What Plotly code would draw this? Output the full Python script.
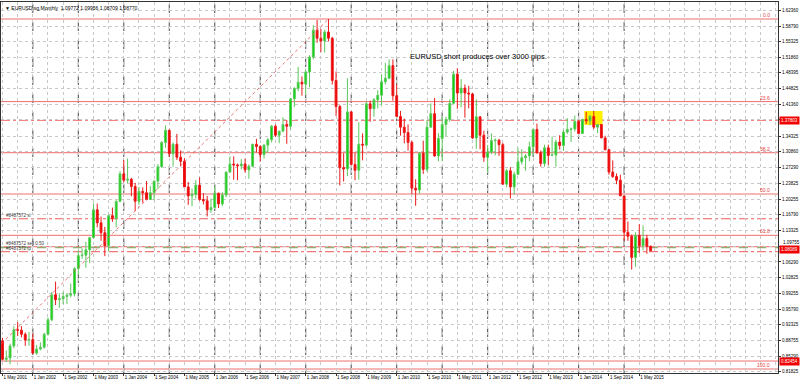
import pandas as pd
import plotly.graph_objects as go

# ---------------- data ----------------
start_month = "2001-05"
n_months = 172
dates = [p.strftime("%Y-%m") for p in pd.period_range(start_month, periods=n_months, freq="M")]

opens = [
    0.8870, 0.8460, 0.8490, 0.8760, 0.9120, 0.9110, 0.9020, 0.8890,
    0.8900, 0.8600, 0.8690, 0.8730, 0.9020, 0.9340, 0.9900, 0.9790, 0.9810, 0.9860, 0.9890, 0.9920,
    1.0480, 1.0770, 1.0780, 1.0900, 1.1170, 1.1790, 1.1500, 1.1280, 1.0990, 1.1660, 1.1600, 1.1980,
    1.2590, 1.2450, 1.2470, 1.2310, 1.1980, 1.2200, 1.2170, 1.2020, 1.2170, 1.2430, 1.2750, 1.3290,
    1.3560, 1.3040, 1.3250, 1.2960, 1.2870, 1.2300, 1.2100, 1.2130, 1.2340, 1.2020, 1.1990, 1.1790,
    1.1840, 1.2160, 1.1920, 1.2120, 1.2630, 1.2810, 1.2790, 1.2770, 1.2810, 1.2680, 1.2760, 1.3250,
    1.3200, 1.3020, 1.3230, 1.3350, 1.3650, 1.3450, 1.3540, 1.3690, 1.3650, 1.4260, 1.4490, 1.4630,
    1.4590, 1.4860, 1.5190, 1.5790, 1.5610, 1.5550, 1.5750, 1.5610, 1.4670, 1.4090, 1.2730, 1.2700,
    1.3970, 1.2800, 1.2670, 1.3250, 1.3230, 1.4150, 1.4040, 1.4240, 1.4340, 1.4640, 1.4720, 1.5000,
    1.4330, 1.3870, 1.3630, 1.3510, 1.3290, 1.2270, 1.2230, 1.3050, 1.2690, 1.3630, 1.3930, 1.2990,
    1.3380, 1.3690, 1.3800, 1.4160, 1.4810, 1.4390, 1.4500, 1.4390, 1.4370, 1.3390, 1.3860, 1.3450,
    1.2960, 1.3080, 1.3330, 1.3340, 1.3240, 1.2360, 1.2660, 1.2300, 1.2580, 1.2860, 1.2950, 1.2990,
    1.3190, 1.3580, 1.3060, 1.2820, 1.3170, 1.3000, 1.3010, 1.3300, 1.3220, 1.3520, 1.3580, 1.3590,
    1.3760, 1.3490, 1.3800, 1.3770, 1.3870, 1.3630, 1.3690, 1.3390, 1.3130, 1.2630, 1.2530, 1.2450,
    1.2100, 1.1290, 1.1200, 1.0730, 1.1220, 1.0990, 1.1150, 1.09772,
]
highs = [
    0.8940, 0.8660, 0.8810, 0.9200, 0.9290, 0.9200, 0.9060, 0.9070,
    0.9040, 0.8780, 0.8840, 0.9050, 0.9390, 0.9960, 1.0190, 0.9930, 0.9960, 0.9930, 1.0150, 1.0510,
    1.0890, 1.0930, 1.1080, 1.1190, 1.1930, 1.1930, 1.1640, 1.1410, 1.1680, 1.1840, 1.2000, 1.2650,
    1.2900, 1.2930, 1.2500, 1.2390, 1.2300, 1.2290, 1.2430, 1.2320, 1.2440, 1.2810, 1.3320, 1.3670,
    1.3580, 1.3290, 1.3480, 1.3110, 1.2940, 1.2410, 1.2260, 1.2450, 1.2510, 1.2160, 1.2100, 1.2040,
    1.2320, 1.2170, 1.2180, 1.2640, 1.2980, 1.2980, 1.2820, 1.2920, 1.2930, 1.2800, 1.3260, 1.3370,
    1.3230, 1.3250, 1.3390, 1.3680, 1.3690, 1.3550, 1.3850, 1.3790, 1.4280, 1.4520, 1.4970, 1.4760,
    1.4900, 1.5230, 1.5900, 1.6020, 1.5820, 1.5800, 1.6038, 1.5640, 1.4870, 1.4120, 1.3050, 1.4720,
    1.3990, 1.3060, 1.3740, 1.3490, 1.4200, 1.4220, 1.4280, 1.4450, 1.4800, 1.5060, 1.5140, 1.5140,
    1.4580, 1.3990, 1.3820, 1.3690, 1.3330, 1.2470, 1.3080, 1.3330, 1.3790, 1.4160, 1.4280, 1.3500,
    1.3860, 1.3860, 1.4250, 1.4880, 1.4940, 1.4700, 1.4580, 1.4550, 1.4390, 1.4250, 1.3870, 1.3550,
    1.3230, 1.3490, 1.3380, 1.3370, 1.3280, 1.2700, 1.2740, 1.2640, 1.3170, 1.3140, 1.3030, 1.3310,
    1.3590, 1.3710, 1.3110, 1.3240, 1.3240, 1.3420, 1.3350, 1.3450, 1.3570, 1.3830, 1.3620, 1.3890,
    1.3780, 1.3820, 1.3970, 1.3900, 1.3990, 1.3700, 1.3700, 1.3440, 1.3130, 1.2890, 1.2600, 1.2570,
    1.2100, 1.1530, 1.1240, 1.1290, 1.1470, 1.1440, 1.1230, 1.09956,
]
lows = [
    0.8440, 0.8400, 0.8350, 0.8710, 0.8980, 0.8950, 0.8760, 0.8760,
    0.8580, 0.8560, 0.8660, 0.8700, 0.8990, 0.9310, 0.9670, 0.9610, 0.9690, 0.9690, 0.9840, 0.9860,
    1.0340, 1.0700, 1.0500, 1.0610, 1.1160, 1.1400, 1.1100, 1.0760, 1.0860, 1.1520, 1.1400, 1.1960,
    1.2400, 1.2380, 1.2090, 1.1760, 1.1900, 1.1950, 1.2000, 1.2010, 1.2000, 1.2250, 1.2720, 1.3170,
    1.2970, 1.2750, 1.2900, 1.2760, 1.2300, 1.1900, 1.1870, 1.2040, 1.1990, 1.1910, 1.1640, 1.1720,
    1.1820, 1.1830, 1.1870, 1.2070, 1.2620, 1.2460, 1.2450, 1.2690, 1.2620, 1.2480, 1.2740, 1.3070,
    1.2860, 1.2930, 1.3060, 1.3290, 1.3410, 1.3270, 1.3530, 1.3260, 1.3580, 1.4080, 1.4430, 1.4330,
    1.4370, 1.4520, 1.5140, 1.5510, 1.5300, 1.5290, 1.5540, 1.4580, 1.3880, 1.2330, 1.2420, 1.2540,
    1.2780, 1.2450, 1.2460, 1.2890, 1.3200, 1.3750, 1.3860, 1.4050, 1.4120, 1.4580, 1.4700, 1.4220,
    1.3860, 1.3440, 1.3270, 1.3110, 1.2140, 1.1880, 1.2150, 1.2590, 1.2640, 1.3640, 1.2970, 1.2870,
    1.2870, 1.3430, 1.3750, 1.4150, 1.4040, 1.4070, 1.3840, 1.4050, 1.3370, 1.3150, 1.3140, 1.2860,
    1.2620, 1.3030, 1.3000, 1.2990, 1.2360, 1.2290, 1.2040, 1.2130, 1.2560, 1.2800, 1.2660, 1.2870,
    1.3000, 1.3040, 1.2750, 1.2750, 1.2790, 1.2990, 1.2750, 1.3130, 1.3100, 1.3480, 1.3300, 1.3530,
    1.3480, 1.3480, 1.3700, 1.3670, 1.3590, 1.3500, 1.3390, 1.3110, 1.2570, 1.2500, 1.2360, 1.2100,
    1.1100, 1.1100, 1.0460, 1.0520, 1.0820, 1.0890, 1.0810, 1.08709,
]
closes = [
    0.8460, 0.8490, 0.8760, 0.9120, 0.9110, 0.9020, 0.8890, 0.8900,
    0.8600, 0.8690, 0.8730, 0.9020, 0.9340, 0.9900, 0.9790, 0.9810, 0.9860, 0.9890, 0.9920, 1.0480,
    1.0770, 1.0780, 1.0900, 1.1170, 1.1790, 1.1500, 1.1280, 1.0990, 1.1660, 1.1600, 1.1980, 1.2590,
    1.2450, 1.2470, 1.2310, 1.1980, 1.2200, 1.2170, 1.2020, 1.2170, 1.2430, 1.2750, 1.3290, 1.3560,
    1.3040, 1.3250, 1.2960, 1.2870, 1.2300, 1.2100, 1.2130, 1.2340, 1.2020, 1.1990, 1.1790, 1.1840,
    1.2160, 1.1920, 1.2120, 1.2630, 1.2810, 1.2790, 1.2770, 1.2810, 1.2680, 1.2760, 1.3250, 1.3200,
    1.3020, 1.3230, 1.3350, 1.3650, 1.3450, 1.3540, 1.3690, 1.3650, 1.4260, 1.4490, 1.4630, 1.4590,
    1.4860, 1.5190, 1.5790, 1.5610, 1.5550, 1.5750, 1.5610, 1.4670, 1.4090, 1.2730, 1.2700, 1.3970,
    1.2800, 1.2670, 1.3250, 1.3230, 1.4150, 1.4040, 1.4240, 1.4340, 1.4640, 1.4720, 1.5000, 1.4330,
    1.3870, 1.3630, 1.3510, 1.3290, 1.2270, 1.2230, 1.3050, 1.2690, 1.3630, 1.3930, 1.2990, 1.3380,
    1.3690, 1.3800, 1.4160, 1.4810, 1.4390, 1.4500, 1.4390, 1.4370, 1.3390, 1.3860, 1.3450, 1.2960,
    1.3080, 1.3330, 1.3340, 1.3240, 1.2360, 1.2660, 1.2300, 1.2580, 1.2860, 1.2950, 1.2990, 1.3190,
    1.3580, 1.3060, 1.2820, 1.3170, 1.3000, 1.3010, 1.3300, 1.3220, 1.3520, 1.3580, 1.3590, 1.3760,
    1.3490, 1.3800, 1.3770, 1.3870, 1.3630, 1.3690, 1.3390, 1.3130, 1.2630, 1.2530, 1.2450, 1.2100,
    1.1290, 1.1200, 1.0730, 1.1220, 1.0990, 1.1150, 1.0977, 1.08770,
]

x_tick_labels = [
    "1 May 2001", "1 Jan 2002", "1 Sep 2002", "1 May 2003", "1 Jan 2004", "1 Sep 2004",
    "1 May 2005", "1 Jan 2006", "1 Sep 2006", "1 May 2007", "1 Jan 2008", "1 Sep 2008",
    "1 May 2009", "1 Jan 2010", "1 Sep 2010", "1 May 2011", "1 Jan 2012", "1 Sep 2012",
    "1 May 2013", "1 Jan 2014", "1 Sep 2014", "1 May 2015",
]
y_tick_values = [1.62360, 1.58790, 1.55325, 1.51860, 1.48395, 1.44825, 1.41360, 1.37895,
                 1.34325, 1.30860, 1.27290, 1.23825, 1.20255, 1.16790, 1.13325, 1.09755,
                 1.06290, 1.02825, 0.99255, 0.95790, 0.92325, 0.88755, 0.85290, 0.81825]
hidden_y_tick = 1.37895   # covered by the entry price tag in the original
nudged_y_tick = 1.09755   # drawn slightly above the tp price tag in the original
y_tick_labels = ["" if v in (hidden_y_tick, nudged_y_tick) else f"{v:.5f}" for v in y_tick_values]

# Fibonacci retracement (Oct 2000 low -> Jul 2008 high)
fib_start_month, fib_low = "2000-10", 0.82454
fib_end_month, fib_high = "2008-07", 1.6038
fib_levels = [0.0, 23.6, 38.2, 50.0, 61.8, 100.0]

# trade / horizontal lines
entry_price = 1.37803
sl_price = 1.1590
bid_price = 1.0968
open_price = 1.0946
tp_price = 1.0857
low_line_price = 0.8423
tag_entry, tag_tp, tag_low = "1.37803", "1.08089", "0.82454"
tag_tp_price = 1.0906
sl_label, open_label, tp_label = "#8487572 sl", "#8487572 sell 0.50", "#8487572 tp"

# highlighted entry zone
box_start, box_end = "2014-03", "2014-07"
box_low, box_high = 1.368, 1.399

header_text = "EURUSD.sg,Monthly  1.09772 1.09956 1.08709 1.08770"
note_text = "EURUSD short produces over 3000 pips."

# ---------------- helpers ----------------
def month_index(m):
    p0 = pd.Period(start_month, freq="M")
    return (pd.Period(m, freq="M") - p0).n

x_idx = list(range(n_months))
FONT = "Liberation Sans, Arial, sans-serif"
RED_LINE = "rgb(240,110,110)"

fig = go.Figure()

# diagonal fib trend line
fig.add_trace(go.Scatter(
    x=[month_index(fib_start_month), month_index(fib_end_month)],
    y=[fib_low, fib_high], mode="lines",
    line=dict(color="rgba(235,90,90,0.85)", width=1, dash="dot"),
    hoverinfo="skip", showlegend=False))

fig.add_trace(go.Candlestick(
    x=x_idx, open=opens, high=highs, low=lows, close=closes,
    increasing=dict(line=dict(color="rgb(90,200,90)", width=1), fillcolor="rgb(0,215,0)"),
    decreasing=dict(line=dict(color="rgb(235,25,25)", width=1), fillcolor="rgb(240,0,0)"),
    whiskerwidth=0, showlegend=False))

shapes = []
# yearly separators (January)
for i, d in enumerate(dates):
    if d.endswith("-01"):
        shapes.append(dict(type="line", xref="x", yref="paper", x0=i, x1=i, y0=0, y1=1,
                           line=dict(color="rgb(70,70,70)", width=1, dash="dash"), layer="below"))
# highlighted zone
shapes.append(dict(type="rect", xref="x", yref="y",
                   x0=month_index(box_start) - 0.5, x1=month_index(box_end) + 0.3,
                   y0=box_low, y1=box_high, fillcolor="rgb(255,240,0)",
                   line=dict(width=0), layer="between"))
# fib levels
annotations = []
for lvl in fib_levels:
    price = fib_high - lvl / 100.0 * (fib_high - fib_low)
    shapes.append(dict(type="line", xref="paper", yref="y", x0=0, x1=1, y0=price, y1=price,
                       line=dict(color=RED_LINE, width=1), layer="between"))
    annotations.append(dict(xref="paper", yref="y", x=0.992, y=price, text=f"{lvl:.1f}",
                            showarrow=False, xanchor="right", yanchor="bottom",
                            font=dict(family=FONT, size=5, color="rgb(230,60,60)"), yshift=-1))
# other horizontal lines
def hline(price, color, dash, width=1):
    shapes.append(dict(type="line", xref="paper", yref="y", x0=0, x1=1, y0=price, y1=price,
                       line=dict(color=color, width=width, dash=dash), layer="between"))

hline(entry_price, "rgb(245,120,120)", "dashdot")
hline(sl_price, "rgb(235,90,90)", "dashdot")
hline(bid_price, "rgb(240,100,100)", "solid")
hline(open_price, "rgb(120,160,80)", "dash")
hline(tp_price, "rgb(235,90,90)", "dashdot")
hline(low_line_price, RED_LINE, "solid")

for txt, price, ysh in [(sl_label, sl_price, -1), (open_label, open_price, 0), (tp_label, tp_price, -1)]:
    annotations.append(dict(xref="paper", yref="y", x=0.004, y=price, text=txt, showarrow=False,
                            xanchor="left", yanchor="bottom",
                            font=dict(family=FONT, size=4.5, color="rgb(60,60,60)"), yshift=ysh))

# right-axis price tags
for txt, price in [(tag_entry, entry_price), (tag_tp, tag_tp_price), (tag_low, low_line_price)]:
    annotations.append(dict(xref="paper", yref="y", x=1.0, y=price, text=txt, showarrow=False,
                            xanchor="left", yanchor="middle", bgcolor="rgb(240,0,0)",
                            font=dict(family=FONT, size=4.5, color="white"), borderpad=1, xshift=1))
# nudged axis label (sits just above the tp tag)
annotations.append(dict(xref="paper", yref="y", x=1.0, y=nudged_y_tick, text=f"{nudged_y_tick:.5f}",
                        showarrow=False, xanchor="left", yanchor="bottom", xshift=3, yshift=-1,
                        font=dict(family=FONT, size=4.5, color="black")))

# header and note
annotations.append(dict(xref="paper", yref="paper", x=0.002, y=0.997, text="▼ " + header_text,
                        showarrow=False, xanchor="left", yanchor="top",
                        font=dict(family=FONT, size=5, color="black")))
annotations.append(dict(xref="paper", yref="paper", x=0.524, y=0.852, text=note_text,
                        showarrow=False, xanchor="left", yanchor="middle",
                        font=dict(family=FONT, size=7.5, color="black")))

tickvals_x = [i for i in range(0, n_months, 8)][:len(x_tick_labels)]

fig.update_layout(
    width=800, height=381,
    margin=dict(l=1, r=22, t=2, b=8, autoexpand=False),
    paper_bgcolor="white", plot_bgcolor="white",
    showlegend=False, shapes=shapes, annotations=annotations,
    font=dict(family=FONT, size=5, color="black"),
    xaxis=dict(
        range=[-0.396, 204.6], rangeslider=dict(visible=False), automargin=False,
        tickmode="array", tickvals=tickvals_x, ticktext=x_tick_labels, tickangle=0,
        ticklabelposition="outside right", ticks="outside", ticklen=2, tickcolor="#333",
        tickfont=dict(family=FONT, size=4.5, color="black"),
        showgrid=True, gridcolor="rgb(200,200,200)", griddash="dot", gridwidth=1,
        minor=dict(tickmode="linear", tick0=0, dtick=4, showgrid=True,
                   gridcolor="rgb(200,200,200)", griddash="dot", ticks=""),
        showline=True, linecolor="#333", linewidth=1, mirror=True, zeroline=False,
    ),
    yaxis=dict(
        range=[0.81565, 1.64165], side="right", automargin=False,
        tickmode="array", tickvals=y_tick_values, ticktext=y_tick_labels,
        ticks="outside", ticklen=2, tickcolor="#333",
        tickfont=dict(family=FONT, size=4.5, color="black"),
        showgrid=True, gridcolor="rgb(200,200,200)", griddash="dot", gridwidth=1,
        showline=True, linecolor="#333", linewidth=1, mirror=True, zeroline=False,
    ),
)

fig.write_html("out.html", config={"displayModeBar": False},
               post_script="document.body.style.margin='0';document.body.style.padding='0';")
